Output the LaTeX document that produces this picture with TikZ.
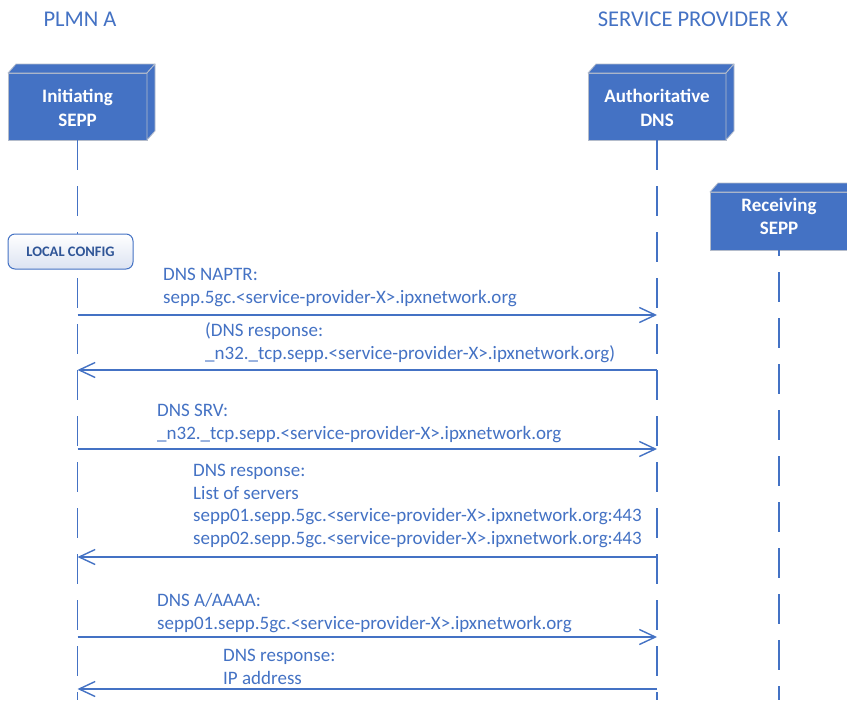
\documentclass[tikz,border=0pt]{standalone}
\usepackage{fontspec}
\setmainfont{Carlito}
\usetikzlibrary{arrows.meta}
\definecolor{blu}{HTML}{4472C4}
\definecolor{txt}{HTML}{4472C4}
\definecolor{dk}{HTML}{2F5597}
\definecolor{edge}{HTML}{B4BCCB}
\definecolor{cfgbot}{HTML}{DCE3F2}
\tikzset{
  actor/.style={fill=blu, draw=edge, line width=0.8pt, inner sep=0pt, outer sep=0pt},
  actortext/.style={text=white, align=center, inner sep=0pt,
    font=\fontsize{19}{24.5}\selectfont\bfseries},
  face/.style={fill=blu, draw=edge, line width=0.8pt, line join=round},
  life/.style={draw=blu, line width=1.5pt, dash pattern=on 30pt off 16pt},
  msg/.style={draw=blu, line width=1.4pt, -{Straight Barb[length=16pt,width=15pt,line width=1.4pt]}},
  lbl/.style={text=txt, anchor=base west, inner sep=0pt, font=\fontsize{19}{22}\selectfont},
  hdr/.style={text=txt, anchor=base, inner sep=0pt, font=\fontsize{22.5}{26}\selectfont},
  cfg/.style={draw=blu, line width=1pt, rounded corners=7pt, top color=white, bottom color=cfgbot,
    text=dk, font=\fontsize{14.5}{16}\selectfont\bfseries, minimum width=125pt, minimum height=35pt, inner sep=0pt}
}
\begin{document}
\begin{tikzpicture}[x=1pt,y=-1pt]
\useasboundingbox (0,0) rectangle (847,715);
\clip (0,0) rectangle (847,715);
\fill[white] (0,0) rectangle (847,715);

% headers
\node[hdr] (plmn) at (80,26) {PLMN A};
\node[hdr] (sp) at (693,26) {SERVICE PROVIDER X};

% actors
\node[actor, minimum width=139pt, minimum height=67pt] (init) at (77.5,106.5) {};
\draw[face] (init.north west) -- ++(8,-9) -- ++(139,0) -- ++(-8,9) -- cycle;
\draw[face] (init.north east) -- ++(8,-9) -- ++(0,67) -- ++(-8,9) -- cycle;
\node[actortext] (initT) at (77.5,108) {Initiating\\SEPP};

\node[actor, minimum width=138pt, minimum height=67pt] (dns) at (657,106.5) {};
\draw[face] (dns.north west) -- ++(8,-9) -- ++(138,0) -- ++(-8,9) -- cycle;
\draw[face] (dns.north east) -- ++(8,-9) -- ++(0,67) -- ++(-8,9) -- cycle;
\node[actortext] (dnsT) at (657,108) {Authoritative\\DNS};

\node[actor, minimum width=138pt, minimum height=58pt] (recv) at (779,221) {};
\draw[face] (recv.north west) -- ++(8,-9) -- ++(138,0) -- ++(-8,9) -- cycle;
\node[actortext, font=\fontsize{19}{23}\selectfont\bfseries] (recvT) at (779,216) {Receiving\\SEPP};

% lifeline ends
\coordinate (initEnd) at (77.5,700);
\coordinate (dnsEnd) at (657,700);
\coordinate (recvEnd) at (779,700);

\draw[life] (init.south) -- (initEnd);
\draw[life] (dns.south) -- (dnsEnd);
\draw[life, dash phase=24pt] (recv.south) -- (recvEnd);

% local config
\node[cfg] (local) at (70.5,251.5) {LOCAL CONFIG};

% message points
\foreach \n/\y in {1/315,2/370,3/449,4/557,5/637,6/689}{
  \coordinate (a\n) at (77.5,\y);
  \coordinate (b\n) at (657,\y);
}

\draw[msg] (a1) -- (b1);
\draw[msg] (b2) -- (a2);
\draw[msg] (a3) -- (b3);
\draw[msg] (b4) -- (a4);
\draw[msg] (a5) -- (b5);
\draw[msg] (b6) -- (a6);

% labels
\node[lbl] (l1a) at (163,280.5) {DNS NAPTR:};
\node[lbl] (l1b) at (163,303) {sepp.5gc.<service-provider-X>.ipxnetwork.org};

\node[lbl] (l2a) at (205,336.5) {(DNS response:};
\node[lbl] (l2b) at (205,359) {\_n32.\_tcp.sepp.<service-provider-X>.ipxnetwork.org)};

\node[lbl] (l3a) at (157,416.5) {DNS SRV:};
\node[lbl] (l3b) at (157,439) {\_n32.\_tcp.sepp.<service-provider-X>.ipxnetwork.org};

\node[lbl] (l4a) at (193,476.5) {DNS response:};
\node[lbl] (l4b) at (193,499) {List of servers};
\node[lbl] (l4c) at (193,521.5) {sepp01.sepp.5gc.<service-provider-X>.ipxnetwork.org:443};
\node[lbl] (l4d) at (193,544) {sepp02.sepp.5gc.<service-provider-X>.ipxnetwork.org:443};

\node[lbl] (l5a) at (157,606.5) {DNS A/AAAA:};
\node[lbl] (l5b) at (157,629) {sepp01.sepp.5gc.<service-provider-X>.ipxnetwork.org};

\node[lbl] (l6a) at (223,661.5) {DNS response:};
\node[lbl] (l6b) at (223,684) {IP address};
\end{tikzpicture}
\end{document}
